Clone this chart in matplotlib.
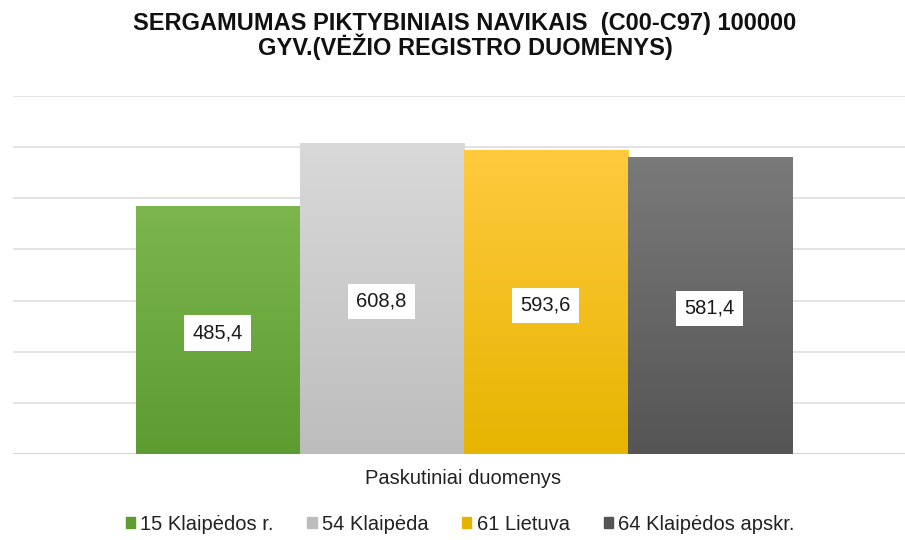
import matplotlib
matplotlib.use("Agg")
import matplotlib.pyplot as plt
import numpy as np
from matplotlib.colors import LinearSegmentedColormap

plt.rcParams['font.family'] = ['Liberation Sans', 'DejaVu Sans']

category = "Paskutiniai duomenys"
series = ["15 Klaipėdos r.", "54 Klaipėda", "61 Lietuva", "64 Klaipėdos apskr."]
values = [485.4, 608.8, 593.6, 581.4]
labels = ["485,4", "608,8", "593,6", "581,4"]
# top / bottom colours of each bar gradient
grad_top = ["#7cb64c", "#d9d9d9", "#ffca3e", "#7a7a7a"]
grad_bot = ["#5c9c30", "#bdbdbd", "#e6b400", "#555555"]

fig = plt.figure(figsize=(9.05, 5.4), dpi=100)
ax = fig.add_axes([13 / 905, 1 - 454 / 540, 892 / 905, 358 / 540])

pos = np.arange(len(values)) - (len(values) - 1) / 2
bars = ax.bar(pos, values, width=1.0, color=grad_bot, zorder=2, label=None)

for b, v, lab, ct, cb in zip(bars, values, labels, grad_top, grad_bot):
    x0 = b.get_x()
    w = b.get_width()
    cmap = LinearSegmentedColormap.from_list("g", [cb, ct])
    grad = np.linspace(0, 1, 256).reshape(-1, 1)
    im = ax.imshow(grad, extent=(x0, x0 + w, 0, v), origin="lower",
                   cmap=cmap, aspect="auto", zorder=3)
    im.set_clip_path(b)
    ax.text(x0 + w / 2, v / 2 - 6, lab, ha="center", va="center", fontsize=14.5,
            color="#1a1a1a", zorder=5,
            bbox=dict(boxstyle="square,pad=0.4", fc="white", ec="none"))

ax.set_xlim(-2.747, 2.692)
ax.set_ylim(0, 700)
ax.set_yticks(np.arange(0, 701, 100))
ax.yaxis.grid(True, color="#dedede", linewidth=1.2, zorder=0)
ax.set_axisbelow(True)
ax.tick_params(left=False, bottom=False, labelleft=False, labelbottom=False)
for s in ax.spines.values():
    s.set_visible(False)
ax.axhline(0, color="#d0d0d0", linewidth=1.2, zorder=1)

fig.text(463 / 905, 1 - 479 / 540, category, ha="center", va="center",
         fontsize=14.5, color="#222222")

fig.text(465 / 905, 1 - 36 / 540,
         "SERGAMUMAS PIKTYBINIAIS NAVIKAIS  (C00-C97) 100000\nGYV.(VĖŽIO REGISTRO DUOMENYS)",
         ha="center", va="center", fontsize=17, fontweight="bold",
         color="#111111", linespacing=0.95)

handles = [plt.Rectangle((0, 0), 1, 1, color=c) for c in grad_bot]
fig.legend(handles, series, loc="center", bbox_to_anchor=(460 / 905, 1 - 524 / 540),
           ncol=4, frameon=False, fontsize=14.5, handlelength=0.45, handleheight=0.45,
           handletextpad=0.25, columnspacing=1.7, labelcolor="#222222")

fig.savefig("out.png", dpi=100)
